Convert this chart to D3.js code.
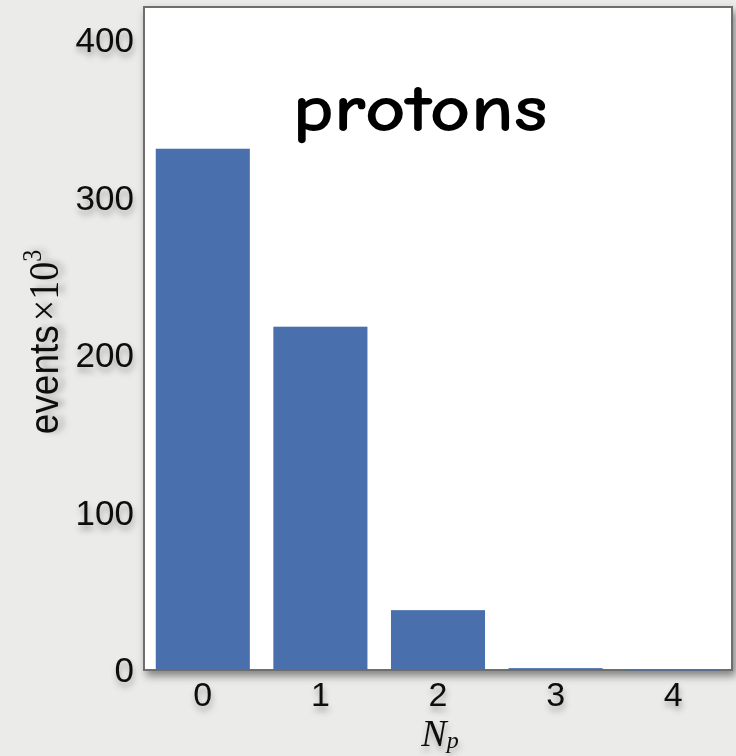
<!DOCTYPE html>
<meta charset="utf-8">
<html>
<head>
<script src="https://d3js.org/d3.v7.min.js"></script>
<style>
  body { margin: 0; background: #ebebea; }
  svg { display: block; }
</style>
</head>
<body>
<div id="chart"></div>
<script>
// data (events x 10^3 per proton count)
var categories = ["0", "1", "2", "3", "4"];
var events = [331, 218, 38, 1.2, 0.3];
var yTicks = [0, 100, 200, 300, 400];

const W = 736, H = 756;
const plotL = 144, plotR = 732, plotT = 7, plotB = 670;
const barColor = "#4a6fad";

const svg = d3.select("#chart").append("svg")
    .attr("width", W).attr("height", H);

var defs = svg.append("defs");
var shadow = defs.append("filter").attr("id", "shadow")
    .attr("x", "-10%").attr("y", "-10%").attr("width", "130%").attr("height", "130%");
shadow.append("feDropShadow").attr("dx", 3).attr("dy", 5)
    .attr("stdDeviation", 4).attr("flood-color", "#000").attr("flood-opacity", 0.45);
var tshadow = defs.append("filter").attr("id", "tshadow")
    .attr("x", "-20%").attr("y", "-30%").attr("width", "150%").attr("height", "190%");
tshadow.append("feDropShadow").attr("dx", 1).attr("dy", 5)
    .attr("stdDeviation", 3).attr("flood-color", "#000").attr("flood-opacity", 0.3);

// scales
var x = d3.scaleBand().domain(categories).range([plotL, plotR]).paddingInner(0.2).paddingOuter(0.1);
var y = d3.scaleLinear().domain([0, 421]).range([plotB, plotT]);

// plot frame
svg.append("rect")
    .attr("x", plotL).attr("y", plotT)
    .attr("width", plotR - plotL).attr("height", plotB - plotT)
    .attr("fill", "white").attr("stroke", "#6e6e6e").attr("stroke-width", 2)
    .attr("filter", "url(#shadow)");

// bars
svg.append("g").selectAll("rect")
    .data(events)
    .join("rect")
    .attr("x", (d, i) => x(categories[i]))
    .attr("y", d => y(d))
    .attr("width", x.bandwidth())
    .attr("height", d => Math.max(1, y(0) - y(d)))
    .attr("fill", barColor);

// y tick labels
svg.append("g").selectAll("text")
    .data(yTicks)
    .join("text")
    .attr("x", plotL - 10)
    .attr("y", d => y(d))
    .attr("dy", "0.35em")
    .attr("text-anchor", "end")
    .attr("font-family", "Liberation Sans, Arial, sans-serif")
    .attr("font-size", 35)
    .attr("fill", "#111")
    .attr("filter", "url(#tshadow)")
    .text(d => d);

// x tick labels
svg.append("g").selectAll("text")
    .data(categories)
    .join("text")
    .attr("x", d => x(d) + x.bandwidth() / 2)
    .attr("y", plotB + 36)
    .attr("text-anchor", "middle")
    .attr("font-family", "Liberation Sans, Arial, sans-serif")
    .attr("font-size", 34)
    .attr("fill", "#111")
    .attr("filter", "url(#tshadow)")
    .text(d => d);

// y axis label (glyphs look a bit tall/condensed in the original)
var ylab = svg.append("text")
    .attr("transform", "translate(58,342) rotate(-90) scale(1,1.12)")
    .attr("text-anchor", "middle")
    .attr("font-family", "Liberation Sans, Arial, sans-serif")
    .attr("font-size", 37)
    .attr("fill", "#111")
    .attr("filter", "url(#tshadow)");
ylab.append("tspan").text("events");
ylab.append("tspan").attr("font-family", "Liberation Serif, serif").attr("font-size", 38).attr("dx", 4).text("×10");
ylab.append("tspan").attr("font-family", "Liberation Serif, serif").attr("font-size", 24).attr("dy", -15).text("3");

// x axis label N_p
var xlab = svg.append("text")
    .attr("x", 440).attr("y", 746)
    .attr("text-anchor", "middle")
    .attr("font-family", "Liberation Serif, Times New Roman, serif")
    .attr("font-style", "italic")
    .attr("font-size", 38)
    .attr("fill", "#111")
    .attr("filter", "url(#tshadow)");
xlab.append("tspan").text("N");
xlab.append("tspan").attr("font-size", 24).attr("dy", 2).text("p");

// title
svg.append("text")
    .attr("x", 420).attr("y", 131)
    .attr("text-anchor", "middle")
    .attr("font-family", "Comic Sans MS, Comic Neue, Lato, sans-serif")
    .attr("font-weight", "bold")
    .attr("font-size", 66)
    .attr("textLength", 255)
    .attr("lengthAdjust", "spacingAndGlyphs")
    .attr("fill", "#000")
    .text("protons");
</script>
</body>
</html>
